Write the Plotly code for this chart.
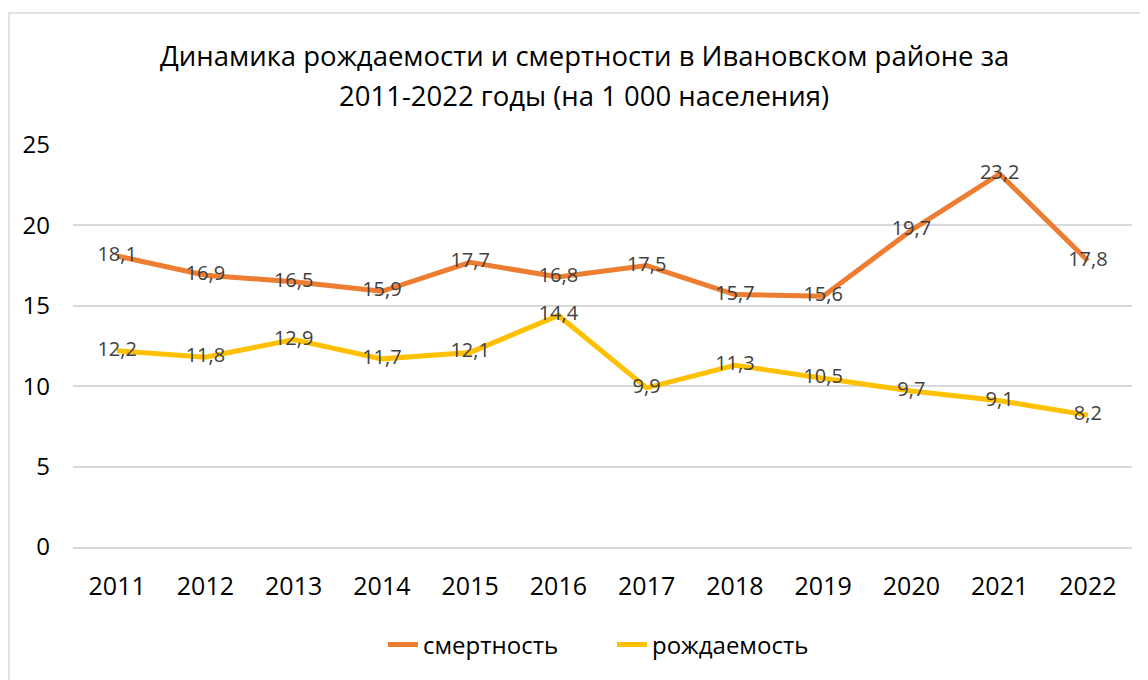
import plotly.graph_objects as go

years = ["2011", "2012", "2013", "2014", "2015", "2016",
         "2017", "2018", "2019", "2020", "2021", "2022"]
mortality = [18.1, 16.9, 16.5, 15.9, 17.7, 16.8, 17.5, 15.7, 15.6, 19.7, 23.2, 17.8]
birth_rate = [12.2, 11.8, 12.9, 11.7, 12.1, 14.4, 9.9, 11.3, 10.5, 9.7, 9.1, 8.2]
title_lines = ["Динамика рождаемости и смертности в Ивановском районе за",
               "2011-2022 годы (на 1 000 населения)"]

FONT = "Open Sans"
OFF = 8  # page body margin
W, H = 1148 - OFF, 680 - OFF
L, R, T, B = 73 - OFF, 16, 145 - OFF, 133
pw, ph = W - L - R, H - T - B


# helpers: page pixel -> paper coords
def px_x(x):
    return (x - OFF - L) / pw


def px_y(y):
    return (H - B - (y - OFF)) / ph


fig = go.Figure()
for name, vals, color in (("смертность", mortality, "#ED7D31"),
                          ("рождаемость", birth_rate, "#FFC000")):
    fig.add_trace(go.Scatter(
        x=years, y=vals, name=name, mode="lines+text",
        line=dict(color=color, width=5),
        texttemplate="%{y:.1f}", textposition="middle center",
        textfont=dict(family=FONT, size=20, color="#404040"),
    ))

for line, ypx in zip(title_lines, (55, 95)):
    fig.add_annotation(
        text=line, xref="paper", yref="paper",
        x=px_x(584), y=px_y(ypx), xanchor="center", yanchor="middle",
        showarrow=False, font=dict(family=FONT, size=27.5, color="#000000"),
    )

fig.update_layout(
    width=W, height=H,
    margin=dict(l=L, r=R, t=T, b=B),
    paper_bgcolor="white", plot_bgcolor="white",
    separators=", ",
    font=dict(family=FONT, color="#000000"),
    showlegend=True,
    legend=dict(
        orientation="h", x=px_x(612), xanchor="center",
        y=px_y(645), yanchor="middle",
        font=dict(family=FONT, size=24, color="#000000"),
        entrywidth=184,
    ),
    shapes=[dict(
        type="rect", xref="paper", yref="paper",
        x0=px_x(9), x1=px_x(1170), y0=px_y(700), y1=px_y(13),
        line=dict(color="#D9D9D9", width=1.5), fillcolor="rgba(0,0,0,0)",
        layer="below",
    )],
)
fig.update_xaxes(
    type="category", range=[-0.5, 11.5], showgrid=False,
    showline=True, linecolor="#D9D9D9", linewidth=1.5,
    ticks="", tickfont=dict(family=FONT, size=25, color="#000000"),
    ticklabelstandoff=16,
)
fig.update_yaxes(
    range=[0, 25], dtick=5, showgrid=True, gridcolor="#D9D9D9", gridwidth=1.5,
    zeroline=False, showline=False, ticks="",
    tickfont=dict(family=FONT, size=24, color="#000000"),
    ticklabelstandoff=22,
)

fig.write_html("out.html")
